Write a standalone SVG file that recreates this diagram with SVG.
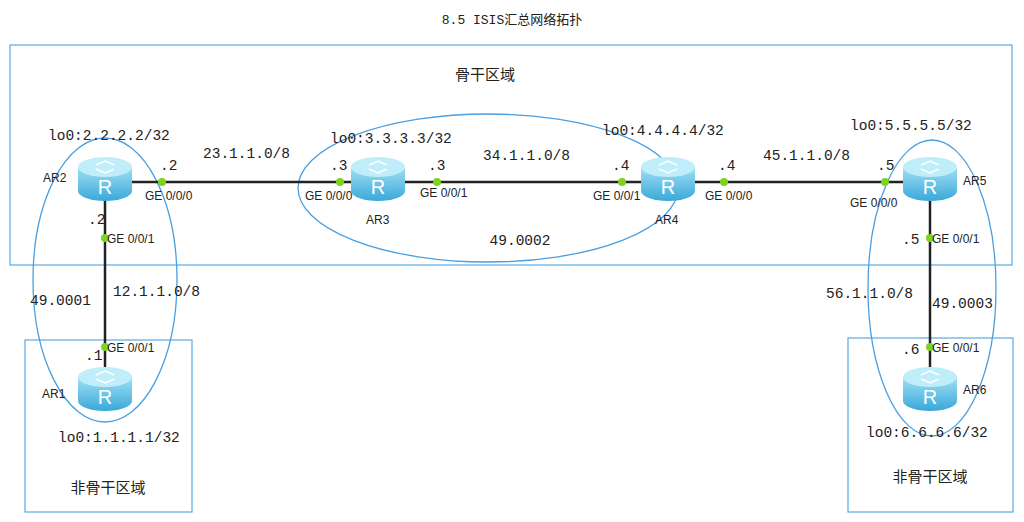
<svg xmlns="http://www.w3.org/2000/svg" width="1024" height="522" viewBox="0 0 1024 522">
<defs>
<linearGradient id="rg" x1="0" y1="0" x2="0" y2="1"><stop offset="0" stop-color="#9fe0f5"/><stop offset="1" stop-color="#3aa8d8"/></linearGradient>
<g id="router">
<path d="M-27,-11 V13 A27,10 0 0 0 27,13 V-11 Z" fill="url(#rg)"/>
<ellipse cx="0" cy="-11" rx="27" ry="10" fill="#bfeefa"/>
<path d="M-9,-13 l9,-4 l9,4 M-9,-9 l9,4 l9,-4" stroke="#fff" stroke-width="1.5" fill="none"/>
<text x="0" y="16" text-anchor="middle" font-family="Liberation Sans, sans-serif" font-size="20" fill="#fff">R</text>
</g>
</defs>
<style>
.m{font-family:"Liberation Mono","DejaVu Sans Mono",monospace;font-size:14.5px;fill:#222}
.s{font-family:"Liberation Sans",Arial,sans-serif;font-size:12px;fill:#222}
.c{font-family:"Liberation Sans","Noto Sans CJK SC",sans-serif;font-size:15px;fill:#222}
.box{fill:none;stroke:#5aa9e6;stroke-width:1.2}
.ell{fill:none;stroke:#4a9fe0;stroke-width:1.3}
.ln{stroke:#222;stroke-width:2.5}
.d{fill:#7ed321}
</style>
<rect width="1024" height="522" fill="#fff"/>
<text x="512" y="24" text-anchor="middle" class="m" style="font-family:'Liberation Mono','Noto Sans CJK SC',monospace;font-size:13px">8.5 ISIS汇总网络拓扑</text>
<g id="areas">
<rect class="box" x="10" y="45" width="1002" height="220"/>
<rect class="box" x="25" y="340" width="167" height="172"/>
<rect class="box" x="848" y="338" width="165" height="174"/>
<ellipse class="ell" cx="105" cy="280" rx="72" ry="142"/>
<ellipse class="ell" cx="488" cy="188" rx="190" ry="74"/>
<ellipse class="ell" cx="932" cy="288" rx="64" ry="148"/>
<text x="485" y="80" text-anchor="middle" class="c">骨干区域</text>
<text x="108" y="493" text-anchor="middle" class="c">非骨干区域</text>
<text x="930" y="482" text-anchor="middle" class="c">非骨干区域</text>
<text x="520" y="245" text-anchor="middle" class="m">49.0002</text>
<text x="30" y="305" class="m">49.0001</text>
<text x="932" y="308" class="m">49.0003</text>
</g>
<g id="connectors">
<line class="ln" x1="105" y1="182" x2="930" y2="182"/>
<line class="ln" x1="105" y1="182" x2="105" y2="388"/>
<line class="ln" x1="930" y1="182" x2="930" y2="388"/>
<circle class="d" cx="162" cy="182" r="4"/><circle class="d" cx="340" cy="182" r="4"/>
<circle class="d" cx="437" cy="182" r="4"/><circle class="d" cx="622" cy="182" r="4"/>
<circle class="d" cx="724" cy="182" r="4"/><circle class="d" cx="885" cy="182" r="4"/>
<circle class="d" cx="105" cy="238" r="4"/><circle class="d" cx="105" cy="347" r="4"/>
<circle class="d" cx="930" cy="238" r="4"/><circle class="d" cx="930" cy="347" r="4"/>
<text x="203" y="158" class="m">23.1.1.0/8</text>
<text x="483" y="160" class="m">34.1.1.0/8</text>
<text x="763" y="160" class="m">45.1.1.0/8</text>
<text x="113" y="296" class="m">12.1.1.0/8</text>
<text x="826" y="298" class="m">56.1.1.0/8</text>
<text x="160" y="170" class="m">.2</text><text x="145" y="200" class="s">GE 0/0/0</text>
<text x="330" y="170" class="m">.3</text><text x="305" y="200" class="s">GE 0/0/0</text>
<text x="428" y="170" class="m">.3</text><text x="420" y="197" class="s">GE 0/0/1</text>
<text x="612" y="170" class="m">.4</text><text x="593" y="200" class="s">GE 0/0/1</text>
<text x="718" y="170" class="m">.4</text><text x="705" y="200" class="s">GE 0/0/0</text>
<text x="877" y="170" class="m">.5</text><text x="850" y="207" class="s">GE 0/0/0</text>
<text x="88" y="224" class="m">.2</text><text x="107" y="243" class="s">GE 0/0/1</text>
<text x="85" y="360" class="m">.1</text><text x="107" y="352" class="s">GE 0/0/1</text>
<text x="902" y="244" class="m">.5</text><text x="932" y="243" class="s">GE 0/0/1</text>
<text x="902" y="354" class="m">.6</text><text x="932" y="352" class="s">GE 0/0/1</text>
</g>
<g id="AR2"><use href="#router" x="105" y="178"/><text x="43" y="182" class="s">AR2</text><text x="48" y="140" class="m">lo0:2.2.2.2/32</text></g>
<g id="AR3"><use href="#router" x="378" y="178"/><text x="366" y="224" class="s">AR3</text><text x="330" y="143" class="m">lo0:3.3.3.3/32</text></g>
<g id="AR4"><use href="#router" x="668" y="178"/><text x="655" y="224" class="s">AR4</text><text x="602" y="135" class="m">lo0:4.4.4.4/32</text></g>
<g id="AR5"><use href="#router" x="930" y="178"/><text x="963" y="185" class="s">AR5</text><text x="850" y="130" class="m">lo0:5.5.5.5/32</text></g>
<g id="AR1"><use href="#router" x="105" y="388"/><text x="42" y="398" class="s">AR1</text><text x="58" y="442" class="m">lo0:1.1.1.1/32</text></g>
<g id="AR6"><use href="#router" x="930" y="388"/><text x="963" y="394" class="s">AR6</text><text x="866" y="437" class="m">lo0:6.6.6.6/32</text></g>
</svg>
